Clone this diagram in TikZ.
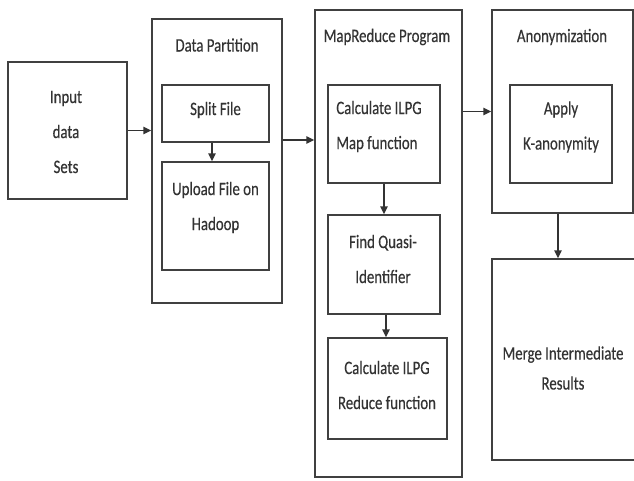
\documentclass[tikz,border=0pt]{standalone}
\usepackage{fontspec}
\setmainfont{Carlito}
\newfontfamily\narrowcal[FakeStretch=0.78,FakeBold=0.35]{Carlito}
\usetikzlibrary{arrows.meta}
\tikzset{
  box/.style={draw=black!75, line width=1.4pt, rectangle, inner sep=0pt},
  txt/.style={font=\narrowcal\fontsize{19}{35}\selectfont, text=black!80, align=center, inner sep=0pt},
  arr/.style={draw=black!80, line width=1.4pt, -{Triangle[length=8pt,width=7.5pt]}}
}
\begin{document}
\begin{tikzpicture}[x=1pt,y=-1pt]
\clip (0,0) rectangle (634,480);
\fill[white] (0,0) rectangle (634,480);
% outer containers
\node[box, minimum width=130pt, minimum height=284pt] (dp) at (217,161) {};
\node[txt] (dpt) at (217,45) {Data Partition};
\node[box, minimum width=147pt, minimum height=467pt] (mr) at (388.5,243.5) {};
\node[txt] (mrt) at (387,37) {MapReduce Program};
\node[box, minimum width=141pt, minimum height=203pt] (an) at (562.5,111.5) {};
\node[txt] (ant) at (562,37) {Anonymization};
% boxes
\node[box, minimum width=119pt, minimum height=137pt] (in) at (67.5,130.5) {};
\node[txt] (int) at (66,132) {Input\\data\\Sets};
\node[box, minimum width=107pt, minimum height=57pt] (sp) at (215.5,113.5) {};
\node[txt] (spt) at (215.5,110) {Split File};
\node[box, minimum width=107pt, minimum height=108pt] (up) at (215.5,216) {};
\node[txt] (upt) at (215.5,207.5) {Upload File on\\Hadoop};
\node[box, minimum width=112pt, minimum height=98pt] (mp) at (384,134) {};
\node[txt, align=left] (mpt) at (379,126.5) {Calculate ILPG\\Map function};
\node[box, minimum width=112pt, minimum height=99pt] (fq) at (384,264.5) {};
\node[txt] (fqt) at (383,259) {Find Quasi-\\Identifier};
\node[box, minimum width=119pt, minimum height=101pt] (rd) at (387.5,388.5) {};
\node[txt] (rdt) at (387,385) {Calculate ILPG\\Reduce function};
\node[box, minimum width=102pt, minimum height=98pt] (ap) at (561,134) {};
\node[txt] (apt) at (561,127) {Apply\\K-anonymity};
\node[box, minimum width=144pt, minimum height=201pt] (mg) at (564,359.5) {};
\node[txt, font=\narrowcal\fontsize{19}{30}\selectfont] (mgt) at (563,368) {Merge Intermediate\\Results};
% connectors
\draw[arr] (in.east) -- (in.east -| dp.west);
\draw[arr] (sp.south -| 212,0) -- (up.north -| 212,0);
\draw[arr] ([yshift=21pt]dp.east) -- ([yshift=21pt]dp.east -| mr.west);
\draw[arr] (mp.south) -- (fq.north);
\draw[arr] (fq.south -| 386,0) -- (rd.north -| 386,0);
\draw[arr] (an.west -| mr.east) -- (an.west);
\draw[arr] (an.south -| 558,0) -- (mg.north -| 558,0);
\end{tikzpicture}
\end{document}
